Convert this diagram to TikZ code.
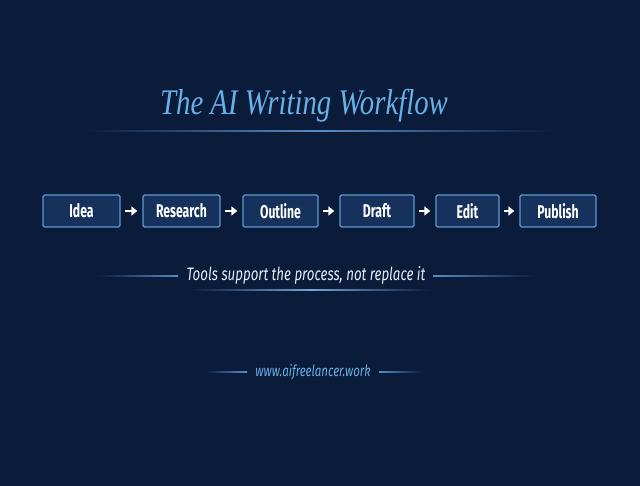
\documentclass[tikz,border=0pt]{standalone}
\usepackage{fontspec}
\usetikzlibrary{arrows.meta,positioning}
\setmainfont{Liberation Serif}
\newfontfamily\titlefont[FakeStretch=0.8]{Liberation Serif}
\newfontfamily\boxfont[FakeStretch=0.66]{Fira Sans}
\newfontfamily\tagfont[FakeStretch=0.74]{Fira Sans}
\definecolor{bgnavy}{RGB}{11,27,58}
\definecolor{boxfill}{RGB}{22,49,92}
\definecolor{boxline}{RGB}{92,152,212}
\definecolor{titleblue}{RGB}{104,176,232}
\definecolor{lineblue}{RGB}{88,140,200}
\definecolor{tagwhite}{RGB}{228,236,248}
\tikzset{
  stagebox/.style={draw=boxline,fill=boxfill,line width=1.3pt,rounded corners=1.5pt,
    minimum height=32pt,inner sep=0pt,text=white,font=\boxfont\bfseries\fontsize{18.5}{18.5}\selectfont},
  flowarrow/.style={white,line width=2.8pt,-{Triangle[length=6pt,width=9pt]},shorten <=4.5pt,shorten >=5pt}
}

\begin{document}
\begin{tikzpicture}[x=1pt,y=-1pt]
    \fill[bgnavy] (0,0) rectangle (640,486);
    \useasboundingbox (0,0) rectangle (640,486);
    % title
    \node[text=titleblue,font=\titlefont\itshape\fontsize{36}{36}\selectfont] (title) at (304,106) {The AI Writing Workflow};
    \shade[left color=bgnavy,right color=bgnavy,middle color=lineblue] (83,130.4) rectangle (555,131.6);
    % stages
    \node[stagebox,minimum width=77pt] (idea) at (81.5,211) {Idea};
    \node[stagebox,minimum width=77pt] (research) at (181.5,211) {Research};
    \node[stagebox,minimum width=75pt] (outline) at (280.5,211) {Outline};
    \node[stagebox,minimum width=74pt] (draft) at (377,211) {Draft};
    \node[stagebox,minimum width=63pt] (edit) at (467.5,211) {Edit};
    \node[stagebox,minimum width=76pt] (publish) at (558,211) {Publish};
    \draw[flowarrow] (idea) -- (research);
    \draw[flowarrow] (research) -- (outline);
    \draw[flowarrow] (outline) -- (draft);
    \draw[flowarrow] (draft) -- (edit);
    \draw[flowarrow] (edit) -- (publish);
    % tagline
    \node[text=tagwhite,font=\tagfont\itshape\fontsize{18}{18}\selectfont] (tagline) at (306,275) {Tools support the process, not replace it};
    \shade[left color=bgnavy,right color=lineblue] (98,275.5) rectangle (178,276.5);
    \shade[left color=lineblue,right color=bgnavy] (433,275.5) rectangle (537,276.5);
    \shade[left color=bgnavy,right color=bgnavy,middle color=lineblue!80] (190,289.6) rectangle (432,290.4);
    % url
    \node[text=titleblue,font=\tagfont\itshape\fontsize{15.5}{15.5}\selectfont] (url) at (313,372) {www.aifreelancer.work};
    \shade[left color=bgnavy,right color=lineblue] (205,371.6) rectangle (247,372.4);
    \shade[left color=lineblue,right color=bgnavy] (379,371.6) rectangle (423,372.4);
\end{tikzpicture}
\end{document}
